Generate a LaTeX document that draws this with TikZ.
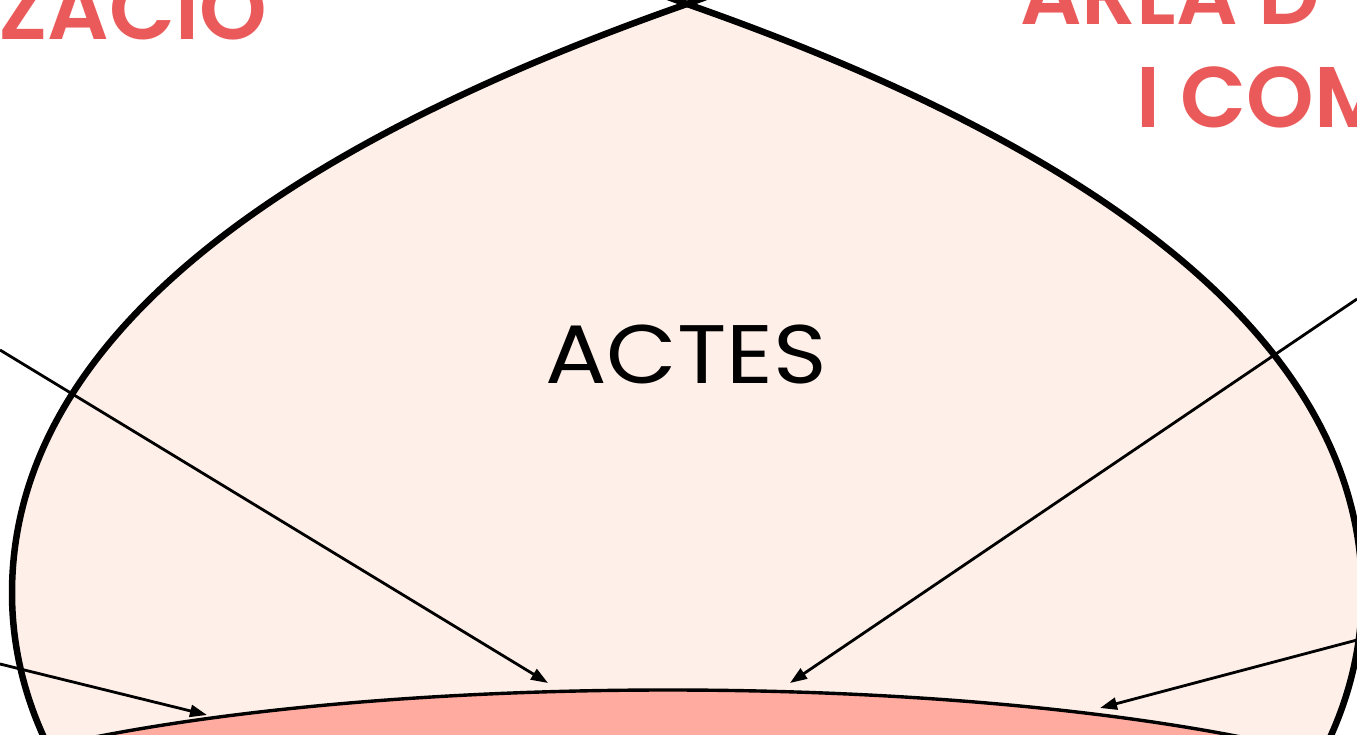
\documentclass[tikz,border=0pt]{standalone}
\usepackage{fontspec}
\setmainfont{Poppins}
\newfontfamily\redfont{Poppins SemiBold}
\newfontfamily\actesfont{Poppins}[FakeStretch=1.1]
\usetikzlibrary{arrows.meta}
\definecolor{paleFill}{HTML}{FEEFE8}
\definecolor{salmon}{HTML}{FFAB9F}
\definecolor{redText}{HTML}{EB5A5A}
\tikzset{
  outline/.style={line width=6.5pt, black},
  innerline/.style={line width=3.4pt, black},
  arrowline/.style={line width=2.8pt, black, -{Triangle[length=17pt,width=12pt]}},
  redlabel/.style={inner sep=0pt, text=redText, font=\fontsize{86}{100}\redfont},
  mainlabel/.style={inner sep=0pt, font=\fontsize{83}{90}\actesfont}
}
\begin{document}
\begin{tikzpicture}[x=1pt,y=-1pt]
\useasboundingbox (0,0) rectangle (1357,735);
\clip (0,0) rectangle (1357,735);
% teardrop fill
\fill[paleFill] (687,4) .. controls (387,109) and (12,293) .. (12,593)
  .. controls (12,855) and (315,1067) .. (687,1067)
  .. controls (1059,1067) and (1362,855) .. (1362,593)
  .. controls (1362,293) and (987,109) .. (687,4) -- cycle;
% teardrop outline (two crossing curves)
\draw[outline] (717,-7) -- (687,4) .. controls (387,109) and (12,293) .. (12,593)
  .. controls (12,855) and (315,1067) .. (687,1067);
\draw[outline] (657,-7) -- (687,4) .. controls (987,109) and (1362,293) .. (1362,593)
  .. controls (1362,855) and (1059,1067) .. (687,1067);
% inner ellipse
\filldraw[innerline, fill=salmon] (668,860) ellipse [x radius=830, y radius=170];
% texts
\node[mainlabel, anchor=base] (actes) at (686,383) {ACTES};
\node[redlabel, anchor=base east] (left) at (267,40) {ZACIO};
\node[redlabel, anchor=base west] (right1) at (1020,25) {ARLA D};
\node[redlabel, anchor=base west] (right2) at (1136,128) {I COM};
% arrows
\coordinate (a1s) at (0,350);  \coordinate (a1e) at (548,683);
\coordinate (a2s) at (1357,299); \coordinate (a2e) at (790,683);
\coordinate (a3s) at (0,664);  \coordinate (a3e) at (207,715);
\coordinate (a4s) at (1357,640); \coordinate (a4e) at (1100,708);
\draw[arrowline] (a1s) -- (a1e);
\draw[arrowline] (a2s) -- (a2e);
\draw[arrowline] (a3s) -- (a3e);
\draw[arrowline] (a4s) -- (a4e);
\end{tikzpicture}
\end{document}
